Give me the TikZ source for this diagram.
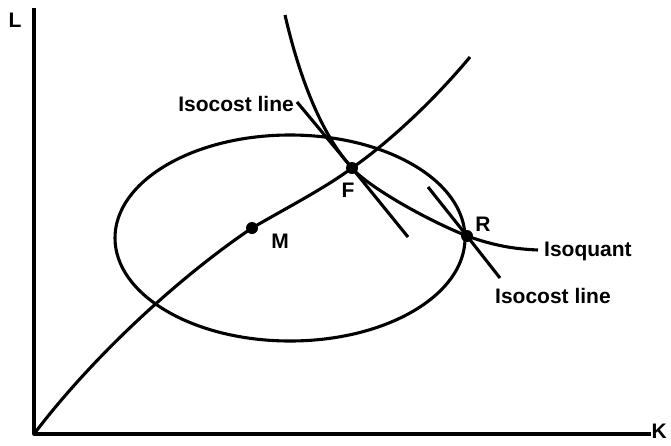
\documentclass[tikz,border=0pt]{standalone}
\usepackage{fontspec}
\setmainfont{Liberation Sans}
\begin{document}
\begin{tikzpicture}[x=1pt,y=-1pt,
  curve/.style={line width=3.1pt,line join=round},
  lbl/.style={font=\bfseries\fontsize{21}{24}\selectfont,inner sep=0pt},
  dot/.style={circle,fill=black,inner sep=0pt,minimum size=12pt}]
\useasboundingbox (0,0) rectangle (671,445);
% axes
\coordinate (O) at (34,434);
\coordinate (Ltop) at (34,8);
\coordinate (Kend) at (651,434);
\draw[curve] (Ltop) -- (O) -- (Kend);
\node[lbl,anchor=center] (L) at (15,20) {L};
\node[lbl,anchor=east] (K) at (667,431) {K};
% ellipse
\draw[curve] (290,238) ellipse [x radius=175, y radius=103];
% points
\node[dot] (M) at (252,228) {};
\node[dot] (F) at (352,168) {};
\node[dot] (R) at (467,236) {};
% expansion path
\draw[curve] (O) .. controls (90,360) and (175,280) .. (M.center)
  .. controls (290,206) and (325,188) .. (F.center)
  .. controls (385,145) and (430,105) .. (470,57);
% isoquant
\coordinate (Qtop) at (285,15);
\coordinate (Qend) at (538,250);
\draw[curve] (Qtop) .. controls (300,80) and (322,135) .. (F.center)
  .. controls (365,184) and (420,217) .. (R.center)
  .. controls (495,246) and (515,249) .. (Qend);
% isocost lines
\coordinate (C1a) at (297,102);
\coordinate (C1b) at (408,237);
\draw[curve] (C1a) -- (F.center) -- (C1b);
\coordinate (C2a) at (428,187);
\coordinate (C2b) at (500,278);
\draw[curve] (C2a) -- (R.center) -- (C2b);
% labels
\node[lbl,anchor=east] (IC1) at (294,104) {Isocost line};
\node[lbl,anchor=west] (IQ) at (544,251) {Isoquant};
\node[lbl,anchor=west] (IC2) at (495,296) {Isocost line};
\node[lbl] (Mlab) at (280,241) {M};
\node[lbl] (Flab) at (348,190) {F};
\node[lbl] (Rlab) at (483,224) {R};
\end{tikzpicture}
\end{document}
